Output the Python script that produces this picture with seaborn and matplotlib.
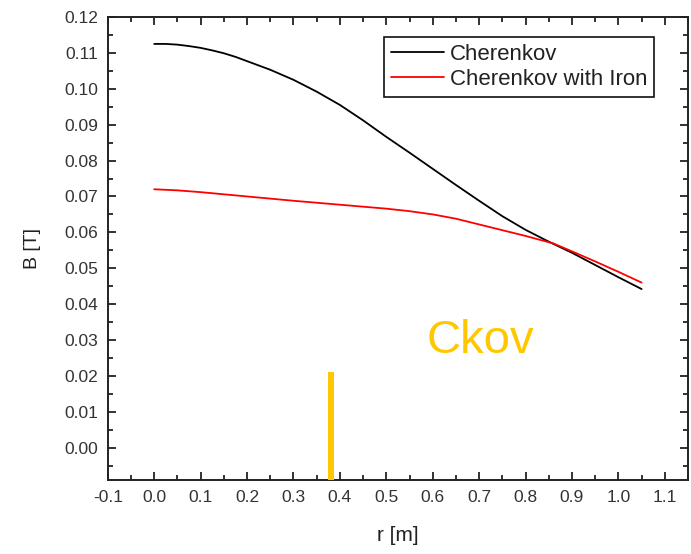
import matplotlib
matplotlib.use("Agg")
import matplotlib.pyplot as plt
import seaborn as sns
import pandas as pd
from matplotlib.ticker import MultipleLocator, FormatStrFormatter

# ---- data ----
r_black = [0.00, 0.025, 0.05, 0.075, 0.10, 0.125, 0.15, 0.175, 0.20, 0.25, 0.30, 0.35, 0.40,
           0.45, 0.50, 0.55, 0.60, 0.65, 0.70, 0.75, 0.80, 0.85, 0.90, 0.95, 1.00, 1.05]
b_black = [0.1125, 0.1125, 0.1123, 0.1119, 0.1114, 0.1107, 0.1099, 0.1089, 0.1077, 0.1053,
           0.1025, 0.0992, 0.0955, 0.0912, 0.0866, 0.0822, 0.0777, 0.0732, 0.0688, 0.0645,
           0.0607, 0.0574, 0.0543, 0.0509, 0.0475, 0.0442]
r_red = [0.00, 0.05, 0.10, 0.15, 0.20, 0.30, 0.40, 0.50, 0.55, 0.60, 0.65, 0.70, 0.75, 0.80,
         0.86, 0.90, 0.95, 1.00, 1.05]
b_red = [0.0720, 0.0717, 0.0712, 0.0706, 0.0700, 0.0688, 0.0677, 0.0666, 0.0659, 0.0650,
         0.0638, 0.0622, 0.0606, 0.0590, 0.0569, 0.0547, 0.0519, 0.0490, 0.0460]
series_names = ["Cherenkov", "Cherenkov with Iron"]
series_colors = ["#000000", "#ff0000"]
marker_x = 0.381
marker_top = 0.0212
annot_text = "Ckov"
annot_pos = (0.587, 0.0265)
x_label = "r [m]"
y_label = "B [T]"

df = pd.DataFrame({
    "r": r_black + r_red,
    "B": b_black + b_red,
    "series": [series_names[0]] * len(r_black) + [series_names[1]] * len(r_red),
})

sns.set_theme(style="white")
plt.rcParams["font.family"] = ["Liberation Sans", "DejaVu Sans"]

fig = plt.figure(figsize=(6.91, 5.54), dpi=100)
ax = fig.add_axes([0.156, 0.1336, 0.8397, 0.8357])

sns.lineplot(data=df, x="r", y="B", hue="series", palette=series_colors,
             linewidth=1.3, ax=ax, sort=False, estimator=None)

ax.vlines(marker_x, -0.009, marker_top, color="#FFC700", linewidth=4.3, zorder=3)
ax.text(annot_pos[0], annot_pos[1], annot_text, color="#FFC700", fontsize=34,
        ha="left", va="baseline")

ax.set_xlim(-0.1, 1.15)
ax.set_ylim(-0.009, 0.12)
ax.xaxis.set_major_locator(MultipleLocator(0.1))
ax.xaxis.set_minor_locator(MultipleLocator(0.05))
ax.yaxis.set_major_locator(MultipleLocator(0.01))
ax.yaxis.set_minor_locator(MultipleLocator(0.005))
ax.xaxis.set_major_formatter(FormatStrFormatter("%.1f"))
ax.yaxis.set_major_formatter(FormatStrFormatter("%.2f"))

ax.tick_params(which="both", direction="in", top=True, right=True,
               bottom=True, left=True, colors="#222222", width=1.3,
               labelsize=12.5, labelcolor="#333333")
ax.tick_params(which="major", length=6, pad=7)
ax.tick_params(which="minor", length=3.5)
for s in ax.spines.values():
    s.set_color("#222222")
    s.set_linewidth(1.4)

ax.set_xlabel(x_label, fontsize=15, color="#222222", labelpad=15)
ax.set_ylabel(y_label, fontsize=14, color="#222222", labelpad=17)

leg = ax.legend(loc="upper right", bbox_to_anchor=(0.941, 0.957), borderaxespad=0,
                fontsize=16, frameon=True, fancybox=False, framealpha=1,
                edgecolor="#111111", handlelength=2.4, handletextpad=0.25,
                labelspacing=0.2, borderpad=0.3, title=None)
leg.get_frame().set_linewidth(1.2)
for t in leg.get_texts():
    t.set_color("#222222")

fig.savefig("out.png", dpi=100)
